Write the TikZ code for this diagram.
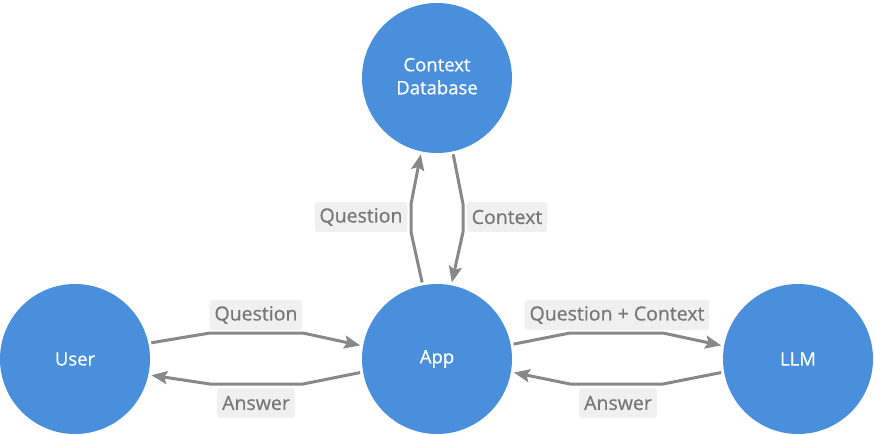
\documentclass[tikz,border=0pt]{standalone}
\usepackage{fontspec}
\setmainfont{Open Sans}[FakeBold=0.6]
\usetikzlibrary{arrows.meta}
\definecolor{nodeblue}{HTML}{4A8FDB}
\definecolor{edgegray}{HTML}{888888}
\definecolor{labelbg}{HTML}{F0F0F0}
\definecolor{labeltext}{HTML}{777777}
\tikzset{
  circ/.style={circle, fill=nodeblue, draw=none, minimum size=150pt, inner sep=0pt, outer sep=3pt,
    text=white, font=\fontsize{18.5}{24}\selectfont, align=center},
  conn/.style={draw=edgegray, line width=3pt, line join=round,
    -{Stealth[length=16pt,width=13pt,inset=3pt]}},
  lbl/.style={fill=labelbg, rounded corners=3pt, text=labeltext, inner xsep=5pt,
    minimum height=30pt, font=\fontsize{19.5}{22}\selectfont}
}
\begin{document}
\begin{tikzpicture}[x=1pt,y=-1pt]
\useasboundingbox (0,0) rectangle (874,435);
\node[circ] (db) at (437,78) {\raisebox{5pt}{\begin{tabular}{@{}c@{}}Context\\[-1pt]Database\end{tabular}}};
\node[circ] (user) at (75,359) {User};
\node[circ] (app) at (437,359) {App};
\node[circ] (llm) at (798,359) {LLM};

% User <-> App
\draw[conn] (user.12) -- (210,333) -- (303,333) -- (app.170);
\draw[conn] (app.190) -- (303,384) -- (210,384) -- (user.-12);
% App <-> LLM
\draw[conn] (app.11) -- (570,333) -- (663,333) -- (llm.170);
\draw[conn] (llm.190) -- (663,384) -- (570,384) -- (app.-10);
% App <-> DB
\draw[conn] (app.101) -- (411,232) -- (411,204) -- (db.-102);
\draw[conn] (db.-78) -- (463,204) -- (463,232) -- (app.79);

\node[lbl] (l1) at (256,315) {Question};
\node[lbl] (l2) at (256,403) {Answer};
\node[lbl] (l3) at (617,315) {Question + Context};
\node[lbl] (l4) at (618,403) {Answer};
\node[lbl] (l5) at (361,217) {Question};
\node[lbl] (l6) at (507,217) {Context};
\end{tikzpicture}
\end{document}
